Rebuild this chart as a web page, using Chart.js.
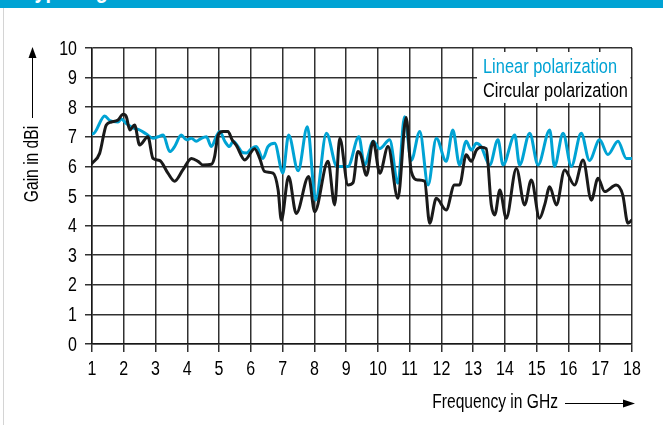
<!DOCTYPE html>
<html>
<head>
<meta charset="utf-8">
<script src="https://cdn.jsdelivr.net/npm/chart.js@4.4.0/dist/chart.umd.min.js"></script>
<style>
  html, body { margin: 0; padding: 0; background: #fff; }
  #wrap { position: relative; width: 663px; height: 425px; overflow: hidden; }
  #head { position: absolute; left: 0; top: 0; width: 663px; height: 8px; background: #00a3d4; overflow: hidden; z-index: 2; }
  #head span { position: absolute; left: 24px; top: -24px; font: bold 24px 'Liberation Sans', sans-serif; color: #fff; white-space: nowrap; transform: scaleX(0.82); transform-origin: 0 0; }
  #edge { position: absolute; left: 3px; top: 8px; width: 1px; height: 417px; background: #d4d4d4; z-index: 2; }
  #chart { position: absolute; left: 0; top: 0; }
</style>
</head>
<body>
<div id="wrap">
  <div id="head"><span>Typical gain</span></div>
  <div id="edge"></div>
  <canvas id="chart" width="663" height="425"></canvas>
</div>
<script>
// frequency in GHz, gain in dBi
const linearFreq = [1.00, 1.03, 1.40, 1.56, 1.82, 1.92, 2.08, 2.29, 2.50, 2.70, 2.92, 3.08, 3.24, 3.45, 3.60, 3.81,
    3.97, 4.13, 4.28, 4.44, 4.60, 4.76, 4.91, 5.02, 5.18, 5.33, 5.44, 5.60, 5.70, 5.86, 6.02, 6.17, 6.38, 6.54,
    6.75, 7.01, 7.19, 7.49, 7.78, 8.04, 8.38, 8.71, 9.06, 9.40, 9.58, 9.85, 10.06, 10.37, 10.63, 10.84, 11.05,
    11.32, 11.58, 11.84, 12.15, 12.36, 12.57, 12.78, 12.94, 13.10, 13.25, 13.52, 13.78, 13.94, 14.31, 14.46,
    14.78, 15.04, 15.41, 15.56, 15.83, 16.09, 16.40, 16.66, 16.98, 17.24, 17.56, 17.82, 18.00];
const linearGain = [7.1, 7.1, 7.7, 7.55, 7.5, 7.6, 7.45, 7.3, 7.23, 7.1, 6.95, 7.0, 7.06, 6.5, 6.67, 7.06,
    6.9, 6.95, 6.85, 6.95, 7.0, 6.67, 7.0, 7.18, 6.85, 6.67, 6.85, 6.67, 6.5, 6.45, 6.6, 6.67, 6.27, 6.67,
    6.78, 5.78, 7.06, 5.85, 7.34, 4.86, 7.12, 6.0, 6.0, 7.0, 6.05, 6.85, 6.6, 6.9, 5.43, 7.68, 6.2,
    7.18, 5.37, 6.95, 6.17, 7.23, 6.05, 6.85, 6.55, 6.78, 6.67, 6.05, 6.9, 6.05, 7.06, 6.05,
    7.12, 6.05, 7.23, 6.0, 7.12, 6.0, 7.12, 6.2, 6.9, 6.4, 6.85, 6.27, 6.27];

const circularFreq = [1.00, 1.24, 1.45, 1.61, 1.82, 1.98, 2.08, 2.19, 2.34, 2.50, 2.76, 2.92, 3.13, 3.39, 3.60,
    3.86, 4.13, 4.34, 4.49, 4.76, 4.86, 4.97, 5.12, 5.28, 5.41, 5.54, 5.81, 6.12, 6.28, 6.43, 6.70, 6.86, 6.96,
    7.19, 7.43, 7.82, 8.01, 8.43, 8.64, 8.80, 9.06, 9.22, 9.37, 9.46, 9.64, 9.85, 10.06, 10.32, 10.63, 10.89,
    11.05, 11.26, 11.47, 11.63, 11.84, 12.15, 12.41, 12.57, 12.78, 12.94, 13.10, 13.25, 13.41, 13.57, 13.68,
    13.84, 14.04, 14.36, 14.62, 14.83, 15.09, 15.25, 15.41, 15.62, 15.88, 16.19, 16.46, 16.72, 16.93, 17.14,
    17.50, 17.71, 17.87, 18.00];
const circularGain = [6.1, 6.44, 7.4, 7.5, 7.57, 7.76, 7.68, 7.23, 7.4, 6.72, 7.0, 6.27, 6.2, 5.77, 5.5,
    5.88, 6.27, 6.17, 6.05, 6.07, 6.33, 7.06, 7.18, 7.18, 6.9, 6.72, 6.22, 6.6, 6.27, 5.83, 5.77, 5.2, 4.19,
    5.66, 4.41, 5.66, 4.47, 6.17, 4.7, 6.95, 5.37, 5.45, 6.5, 6.4, 5.7, 6.85, 5.77, 6.67, 4.92, 7.65,
    5.83, 5.54, 5.5, 4.08, 4.92, 4.53, 5.37, 5.37, 6.39, 6.17, 6.55, 6.65, 6.6, 4.7, 4.36,
    5.2, 4.25, 5.93, 4.7, 5.54, 4.25, 4.7, 5.31, 4.7, 5.88, 5.37, 6.22, 4.86, 5.6, 5.15,
    5.37, 5.03, 4.08, 4.19];

const yTicks = [0, 1, 2, 3, 4, 5, 6, 7, 8, 9, 10];
const xTicks = [1, 2, 3, 4, 5, 6, 7, 8, 9, 10, 11, 12, 13, 14, 15, 16, 17, 18];

const FONT = "'Liberation Sans', Arial, sans-serif";
const SQUEEZE = 0.8; // no condensed face installed, so text is squeezed horizontally
const BLUE = '#00a3d4';
const INK = '#1a1a1a';
const GRID = 'rgba(20,20,20,0.88)';

const toPoints = (xs, ys) => xs.map((x, i) => ({ x: x, y: ys[i] }));

function narrowText(ctx, text, x, y, align, size, color) {
    ctx.save();
    ctx.translate(x, y);
    ctx.scale(SQUEEZE, 1);
    ctx.font = size + 'px ' + FONT;
    ctx.textAlign = align;
    ctx.textBaseline = 'middle';
    ctx.fillStyle = color;
    ctx.fillText(text, 0, 0);
    ctx.restore();
}

// tick labels, axis titles, arrows and the boxed legend
const decorations = {
    id: 'decorations',
    beforeDatasetsDraw(chart) {
        const ctx = chart.ctx;
        ctx.save();
        ctx.fillStyle = '#fff';
        ctx.fillRect(477, 52, 153.5, 51);
        ctx.restore();
        narrowText(ctx, 'Linear polarization', 483, 67, 'left', 20.5, BLUE);
        narrowText(ctx, 'Circular polarization', 483, 91, 'left', 20.5, '#000');
    },
    afterDraw(chart) {
        const ctx = chart.ctx;
        const xs = chart.scales.x;
        const ys = chart.scales.y;

        yTicks.forEach(v => narrowText(ctx, String(v), 77, ys.getPixelForValue(v) + 1, 'right', 20, '#000'));
        xTicks.forEach(v => narrowText(ctx, String(v), xs.getPixelForValue(v), 369, 'center', 20, '#000'));

        // y title
        ctx.save();
        ctx.translate(33, 164);
        ctx.rotate(-Math.PI / 2);
        narrowText(ctx, 'Gain in dBi', 0, 0, 'center', 19.5, '#000');
        ctx.restore();

        ctx.save();
        ctx.fillStyle = '#000';
        ctx.strokeStyle = '#000';
        ctx.lineWidth = 1;
        ctx.beginPath();
        ctx.moveTo(32.5, 118);
        ctx.lineTo(32.5, 56);
        ctx.stroke();
        ctx.beginPath();
        ctx.moveTo(32.5, 47);
        ctx.lineTo(28.5, 58);
        ctx.lineTo(36.5, 58);
        ctx.closePath();
        ctx.fill();

        // x title
        narrowText(ctx, 'Frequency in GHz', 558, 403, 'right', 19.5, '#000');
        ctx.beginPath();
        ctx.moveTo(565, 403.5);
        ctx.lineTo(625, 403.5);
        ctx.stroke();
        ctx.beginPath();
        ctx.moveTo(635, 403.5);
        ctx.lineTo(623, 399.5);
        ctx.lineTo(623, 407.5);
        ctx.closePath();
        ctx.fill();
        ctx.restore();
    }
};

Chart.defaults.font.family = FONT;
Chart.defaults.color = '#000';

new Chart(document.getElementById('chart'), {
    type: 'line',
    data: {
        datasets: [
            {
                label: 'Circular polarization',
                data: toPoints(circularFreq, circularGain),
                borderColor: INK,
                borderWidth: 3,
                pointRadius: 0,
                cubicInterpolationMode: 'monotone',
                borderJoinStyle: 'round',
                borderCapStyle: 'round',
                order: 1
            },
            {
                label: 'Linear polarization',
                data: toPoints(linearFreq, linearGain),
                borderColor: BLUE,
                borderWidth: 3,
                pointRadius: 0,
                cubicInterpolationMode: 'monotone',
                borderJoinStyle: 'round',
                borderCapStyle: 'round',
                order: 2
            }
        ]
    },
    options: {
        responsive: false,
        animation: false,
        events: [],
        layout: { padding: { left: 40, top: 48, right: 31, bottom: 51 } },
        plugins: { legend: { display: false }, tooltip: { enabled: false } },
        scales: {
            x: {
                type: 'linear',
                min: 1,
                max: 18,
                afterFit: scale => { scale.height = 30; },
                afterBuildTicks: scale => { scale.ticks = xTicks.map(v => ({ value: v })); },
                ticks: { display: false },
                grid: { color: GRID, lineWidth: 1.5, tickLength: 8 },
                border: { color: GRID, width: 1.5 }
            },
            y: {
                min: 0,
                max: 10,
                afterFit: scale => { scale.width = 52; },
                afterBuildTicks: scale => { scale.ticks = yTicks.map(v => ({ value: v })); },
                ticks: { display: false },
                grid: { color: GRID, lineWidth: 1.5, tickLength: 7 },
                border: { color: GRID, width: 1.5 }
            }
        }
    },
    plugins: [decorations]
});
</script>
</body>
</html>
